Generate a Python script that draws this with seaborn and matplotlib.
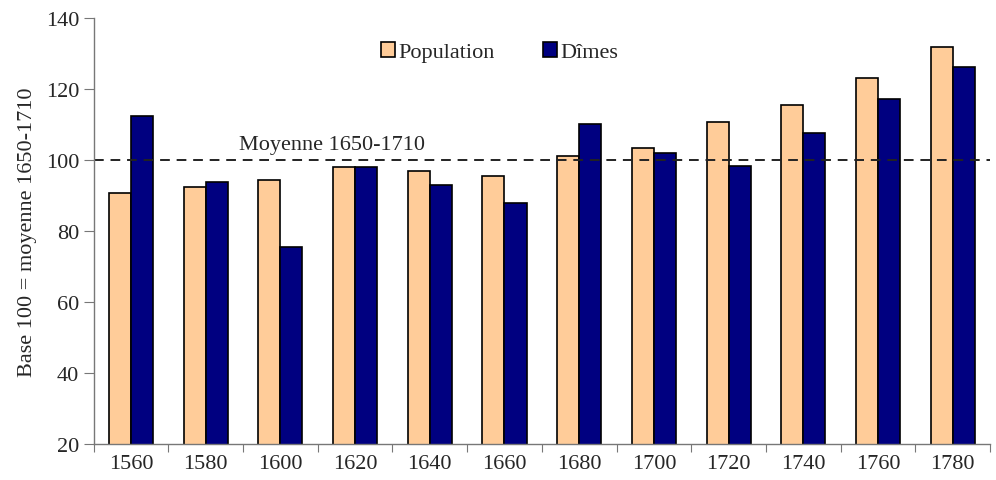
import matplotlib
matplotlib.use("Agg")
import matplotlib.pyplot as plt
import pandas as pd
import seaborn as sns

years = ["1560", "1580", "1600", "1620", "1640", "1660", "1680", "1700", "1720", "1740", "1760", "1780"]
population = [90.6, 92.4, 94.4, 98.1, 96.9, 95.5, 101.1, 103.4, 110.7, 115.5, 123.1, 131.8]
dimes = [112.4, 93.8, 75.5, 98.0, 93.0, 87.9, 110.1, 102.0, 98.3, 107.6, 117.2, 126.2]
series = ["Population", "Dîmes"]
colors = ["#FFCC99", "#000080"]

df = pd.DataFrame({
    "annee": years * 2,
    "valeur": population + dimes,
    "serie": [series[0]] * len(years) + [series[1]] * len(years),
})

sns.set_style("white")
plt.rcParams["font.family"] = ["Liberation Serif", "DejaVu Serif"]

fig = plt.figure(figsize=(9.96, 4.81), dpi=100)
ax = fig.add_axes([0.094, 0.075, 0.9, 0.885])

sns.barplot(data=df, x="annee", y="valeur", hue="serie", palette=colors,
            width=0.59, edgecolor="black", linewidth=1.2, saturation=1, ax=ax)

ax.axhline(100, color="#222222", linestyle=(0, (5, 3.5)), linewidth=1.4)
ax.text(2.69, 101.8, "Moyenne 1650-1710", ha="center", va="bottom", fontsize=16)

ax.set_ylim(20, 140)
ax.set_xlim(-0.5, len(years) - 0.5)
ax.set_yticks(range(20, 141, 20))
ax.set_ylabel("Base 100 = moyenne 1650-1710", fontsize=16, labelpad=6)
ax.set_xlabel("")

# ticks between categories, as in the original
ax.set_xticks([i - 0.5 for i in range(len(years) + 1)], minor=False)
ax.set_xticklabels([])
ax.set_xticks(range(len(years)), minor=True)
ax.set_xticklabels(years, minor=True, fontsize=16)
ax.tick_params(axis="x", which="major", direction="out", length=6, color="#777777")
ax.tick_params(axis="x", which="minor", length=0, pad=7)
ax.tick_params(axis="y", direction="out", length=7, color="#777777", labelsize=16)
ax.xaxis.set_ticks_position("bottom")
ax.yaxis.set_ticks_position("left")

for s in ["top", "right"]:
    ax.spines[s].set_visible(False)
for s in ["left", "bottom"]:
    ax.spines[s].set_color("#777777")
    ax.spines[s].set_linewidth(1)

leg = ax.legend(loc="upper center", bbox_to_anchor=(0.453, 0.99), ncol=2, frameon=False,
                fontsize=16, handlelength=0.6, handleheight=0.6, handletextpad=0.15,
                columnspacing=2.2)

fig.savefig("out.png", dpi=100)
